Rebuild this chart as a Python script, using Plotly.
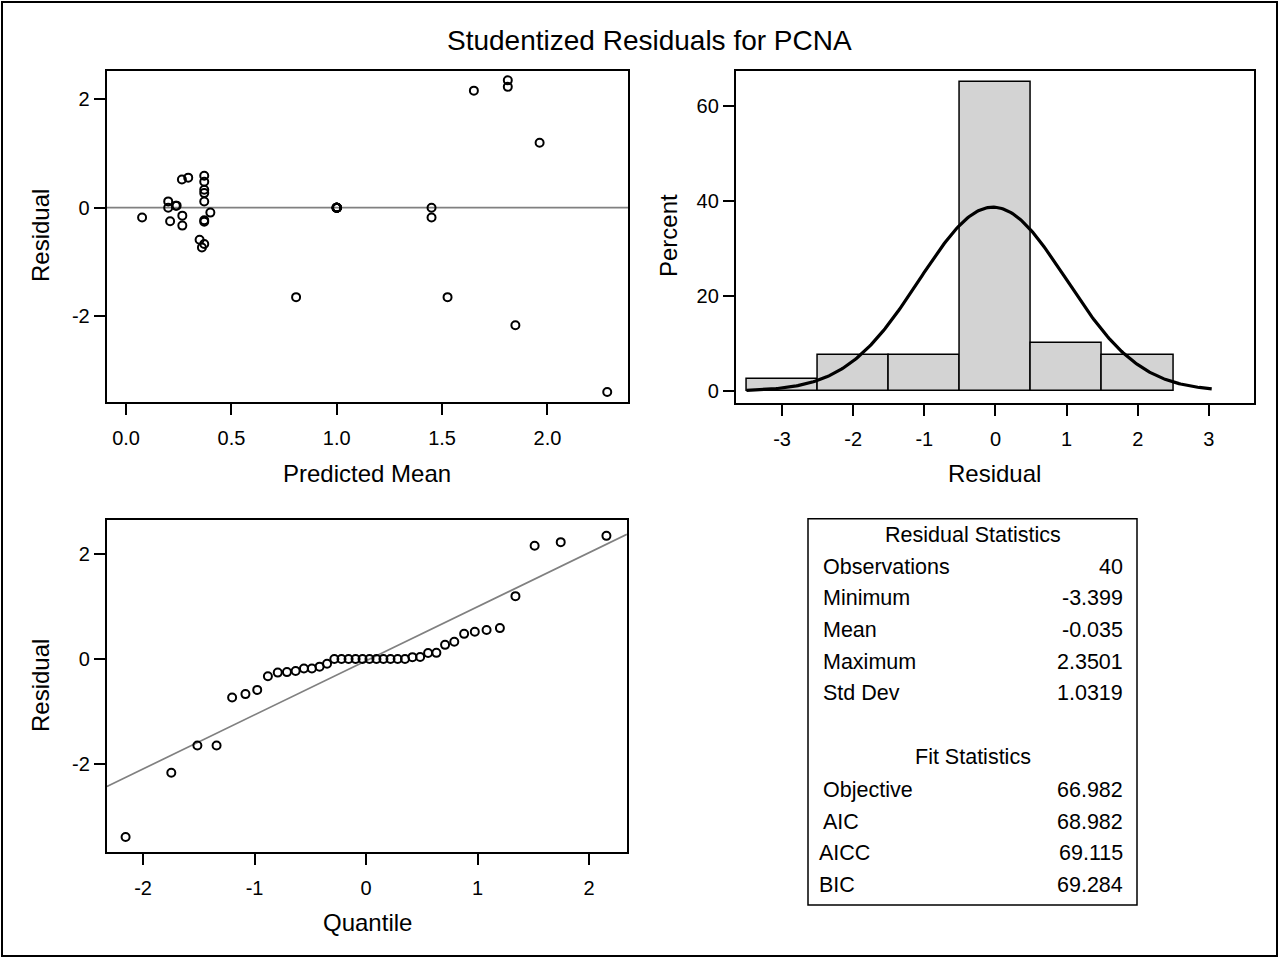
import numpy as np
import plotly.graph_objects as go
from statistics import NormalDist

# ---------------- data ----------------
predicted_mean = [0.076, 0.200, 0.200, 0.240, 0.209, 0.267, 0.267, 0.265, 0.295, 0.371,
                  0.371, 0.371, 0.371, 0.371, 0.400, 0.371, 0.349, 0.371, 0.360, 0.807,
                  1.526, 1.651, 1.812, 1.812, 1.963, 1.450, 1.450, 1.848, 2.284, 1.000,
                  1.000, 1.000, 1.000, 0.998, 1.000, 1.002, 1.000, 1.000, 0.371, 0.236]
residual = [-0.180, 0.117, 0.000, 0.038, -0.250, -0.146, -0.330, 0.520, 0.555, 0.590,
            0.480, 0.330, 0.270, 0.115, -0.090, -0.260, -0.590, -0.670, -0.735, -1.650,
            -1.650, 2.160, 2.3501, 2.230, 1.200, 0.000, -0.180, -2.170, -3.399, 0.000,
            0.000, 0.000, 0.000, 0.000, 0.000, 0.000, 0.000, 0.000, -0.230, 0.035]

resid_stat_labels = ["Observations", "Minimum", "Mean", "Maximum", "Std Dev"]
resid_stat_values = ["40", "-3.399", "-0.035", "2.3501", "1.0319"]
fit_stat_labels = ["Objective", "AIC", "AICC", "BIC"]
fit_stat_values = ["66.982", "68.982", "69.115", "69.284"]
resid_mean = -0.035
resid_sd = 1.0319

title_text = "Studentized Residuals for PCNA"

pred_ticks = [0.0, 0.5, 1.0, 1.5, 2.0]
pred_ticktext = ["0.0", "0.5", "1.0", "1.5", "2.0"]
resid_ticks = [-2, 0, 2]
resid_ticktext = ["-2", "0", "2"]
hist_xticks = [-3, -2, -1, 0, 1, 2, 3]
hist_xticktext = ["-3", "-2", "-1", "0", "1", "2", "3"]
pct_ticks = [0, 20, 40, 60]
qq_ticks = [-2, -1, 0, 1, 2]
qq_ticktext = ["-2", "-1", "0", "1", "2"]

# ---------------- derived ----------------
n = len(residual)
sorted_res = sorted(residual)
nd = NormalDist()
quantiles = [nd.inv_cdf((i + 1 - 0.375) / (n + 0.25)) for i in range(n)]

curve_x = np.linspace(-3.5, 3.04, 300)
curve_y = 100.0 * np.exp(-0.5 * ((curve_x - resid_mean) / resid_sd) ** 2) / (resid_sd * np.sqrt(2 * np.pi))

qq_xr = [-2.324, 2.34]
qq_line_y = [resid_mean + resid_sd * v for v in qq_xr]

W, H = 1279, 958
FONT = "Liberation Sans, Arial, sans-serif"


def px(x):
    return x / W


def py(y):
    return 1 - y / H


fig = go.Figure()

marker = dict(symbol="circle-open", size=8, color="black", line=dict(width=2, color="black"))

# residual vs predicted
fig.add_trace(go.Scatter(x=[-0.092, 2.384], y=[0, 0], mode="lines",
                         line=dict(color="#808080", width=1.7), xaxis="x", yaxis="y",
                         hoverinfo="skip"))
fig.add_trace(go.Scatter(x=predicted_mean, y=residual, mode="markers", marker=marker,
                         xaxis="x", yaxis="y"))

# histogram
fig.add_trace(go.Histogram(x=residual, histnorm="percent",
                           xbins=dict(start=-3.5, end=3.5, size=1),
                           marker=dict(color="#d3d3d3", line=dict(color="black", width=1.5)),
                           xaxis="x2", yaxis="y2"))
fig.add_trace(go.Scatter(x=curve_x, y=curve_y, mode="lines",
                         line=dict(color="black", width=3.2), xaxis="x2", yaxis="y2"))

# QQ
fig.add_trace(go.Scatter(x=qq_xr, y=qq_line_y, mode="lines",
                         line=dict(color="#808080", width=1.7), xaxis="x3", yaxis="y3"))
fig.add_trace(go.Scatter(x=quantiles, y=sorted_res, mode="markers", marker=marker,
                         xaxis="x3", yaxis="y3"))

axis_common = dict(showline=True, linecolor="black", linewidth=2, mirror=True,
                   ticks="outside", ticklen=11, tickwidth=2, tickcolor="black",
                   showgrid=False, zeroline=False,
                   tickfont=dict(family=FONT, size=20, color="black"))

fig.update_layout(
    width=W, height=H, autosize=False,
    margin=dict(l=0, r=0, t=0, b=0),
    paper_bgcolor="white", plot_bgcolor="white",
    showlegend=False, bargap=0,
    font=dict(family=FONT, color="black"),
    xaxis=dict(domain=[px(106.7), px(628.3)], range=[-0.092, 2.384],
               tickvals=pred_ticks, ticktext=pred_ticktext, ticklabelstandoff=6,
               anchor="y", **axis_common),
    yaxis=dict(domain=[py(402.3), py(70.7)], range=[-3.59, 2.528],
               tickvals=resid_ticks, ticktext=resid_ticktext, anchor="x", **axis_common),
    xaxis2=dict(domain=[px(735.8), px(1253.9)], range=[-3.65, 3.633],
                tickvals=hist_xticks, ticktext=hist_xticktext, ticklabelstandoff=6,
                anchor="y2", **axis_common),
    yaxis2=dict(domain=[py(402.7), py(71)], range=[-2.46, 67.3],
                tickvals=pct_ticks, anchor="x2", **axis_common),
    xaxis3=dict(domain=[px(106.9), px(626.9)], range=qq_xr,
                tickvals=qq_ticks, ticktext=qq_ticktext, ticklabelstandoff=6,
                anchor="y3", **axis_common),
    yaxis3=dict(domain=[py(851.7), py(520)], range=[-3.678, 2.653],
                tickvals=resid_ticks, ticktext=resid_ticktext, anchor="x3", **axis_common),
)

ann = []


def add_text(text, x, y, size, xanchor="center", angle=0):
    ann.append(dict(text=text, x=px(x), y=py(y), xref="paper", yref="paper",
                    xanchor=xanchor, yanchor="middle", showarrow=False, textangle=angle,
                    font=dict(family=FONT, size=size, color="black")))


add_text(title_text, 649, 40, 28)
add_text("Predicted Mean", 367, 473, 24)
add_text("Residual", 40, 236, 24, angle=-90)
add_text("Residual", 995, 473, 24)
add_text("Percent", 668, 236, 24, angle=-90)
add_text("Quantile", 367, 922, 24)
add_text("Residual", 40, 686, 24, angle=-90)

# stats table
add_text("Residual Statistics", 973, 535, 21.5)
row_y = [566.7, 598, 630, 661.7, 693.3]
for lab, val, yy in zip(resid_stat_labels, resid_stat_values, row_y):
    add_text(lab, 820.7, yy, 21.5, xanchor="left")
    add_text(val, 1125, yy, 21.5, xanchor="right")
add_text("Fit Statistics", 973, 757.3, 21.5)
fit_y = [790, 821.7, 853.3, 885]
fit_x = [820.7, 820.7, 816.7, 816.7]
for lab, val, yy, xx in zip(fit_stat_labels, fit_stat_values, fit_y, fit_x):
    add_text(lab, xx, yy, 21.5, xanchor="left")
    add_text(val, 1125, yy, 21.5, xanchor="right")

fig.update_layout(annotations=ann)

fig.update_layout(shapes=[
    dict(type="rect", xref="paper", yref="paper", x0=px(808), x1=px(1137), y0=py(905), y1=py(518.7),
         line=dict(color="black", width=1.5)),
    dict(type="rect", xref="paper", yref="paper", x0=px(2), x1=px(1277), y0=py(956), y1=py(2),
         line=dict(color="black", width=2)),
])

fig.write_html("out.html")
